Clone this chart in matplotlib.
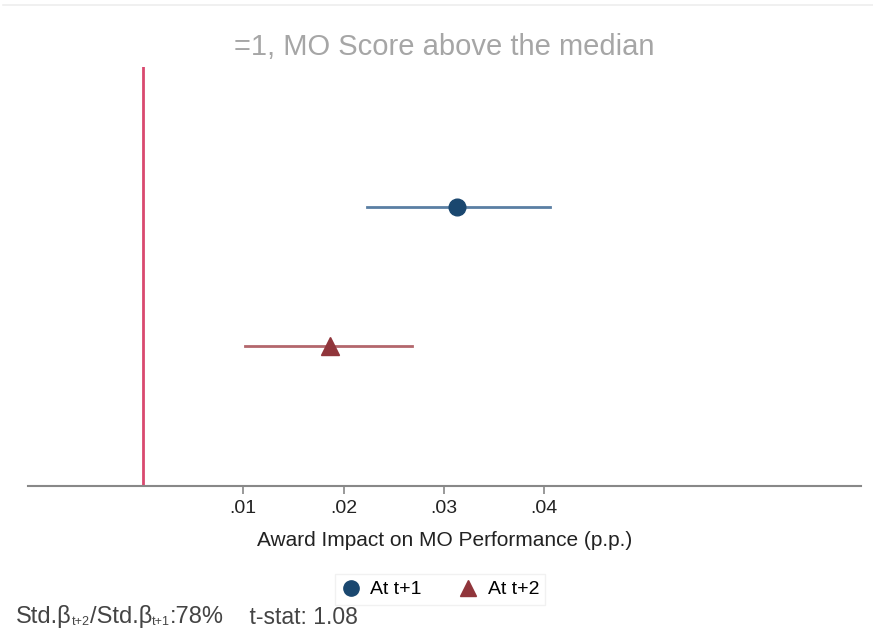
import matplotlib
matplotlib.use("Agg")
import matplotlib.pyplot as plt
from matplotlib.lines import Line2D

plt.rcParams['font.family'] = ['Liberation Sans', 'DejaVu Sans']

# Data
labels = ["At t+1", "At t+2"]
estimates = [0.0313, 0.0186]
ci_low = [0.0223, 0.0102]
ci_high = [0.0406, 0.0268]
ypos = [2, 1]
xticks = [0.01, 0.02, 0.03, 0.04]
xticklabels = [".01", ".02", ".03", ".04"]
title = "=1, MO Score above the median"
xlabel = "Award Impact on MO Performance (p.p.)"

point_colors = ["#1a476f", "#90353b"]
line_colors = ["#5a7fa3", "#b3676c"]
markers = ["o", "^"]

fig = plt.figure(figsize=(8.73, 6.42), dpi=100)
ax = fig.add_axes([28/873, 1-486/642, (861-28)/873, (486-67)/642])

for i in range(len(labels)):
    ax.plot([ci_low[i], ci_high[i]], [ypos[i], ypos[i]], color=line_colors[i], lw=2, zorder=2)
    ax.plot(estimates[i], ypos[i], marker=markers[i], color=point_colors[i],
            markersize=12 if markers[i] == "o" else 13, linestyle="none", zorder=3)

ax.axvline(0, color="#d9496f", lw=2, zorder=1)

ax.set_xlim((28-143)/10030, (861-143)/10030)
ax.set_ylim(0, 3)
ax.set_yticks([])
ax.set_xticks(xticks)
ax.set_xticklabels(xticklabels, fontsize=14, color="#222222")
ax.tick_params(axis='x', length=6, width=1.2, color="#888888", pad=4)
for s in ["top", "right", "left"]:
    ax.spines[s].set_visible(False)
ax.spines["bottom"].set_color("#888888")
ax.spines["bottom"].set_linewidth(1.5)
ax.set_xlabel(xlabel, fontsize=15, color="#222222", labelpad=10)

fig.text(444/873, 1-47/642, title, ha="center", va="center", fontsize=21, color="#a6a6a6")

# faint top border line
fig.add_artist(Line2D([3/873, 1], [1-4.5/642, 1-4.5/642], color="#eeeeee", lw=1.2))

handles = [Line2D([], [], marker=markers[i], color=point_colors[i], linestyle="none",
                  markersize=11 if markers[i] == "o" else 12) for i in range(2)]
leg = fig.legend(handles, labels, loc="center", bbox_to_anchor=(440/873, 1-589.5/642),
                 ncol=2, frameon=True, fontsize=14, handletextpad=0.5, columnspacing=1.9,
                 borderpad=0.32, handlelength=1.0, fancybox=False)
leg.get_frame().set_edgecolor("#eeeeee")
leg.get_frame().set_linewidth(1)
leg.set_zorder(1)

# bottom note with small subscripts
fig.canvas.draw()
r = fig.canvas.get_renderer()
parts = [("Std.β", 17, 0), ("t+2", 9, -5), ("/Std.β", 17, 0), ("t+1", 9, -5),
         (":78%", 17, 0), ("    t-stat: 1.08", 16.5, 0)]
x = 16
for s, fs, dy in parts:
    tt = fig.text(x/873, (1-617/642) + dy/642, s, ha="left", va="center", fontsize=fs,
                  color="#444444", zorder=5)
    bb = tt.get_window_extent(renderer=r)
    x += bb.width

fig.savefig("out.png", dpi=100)
